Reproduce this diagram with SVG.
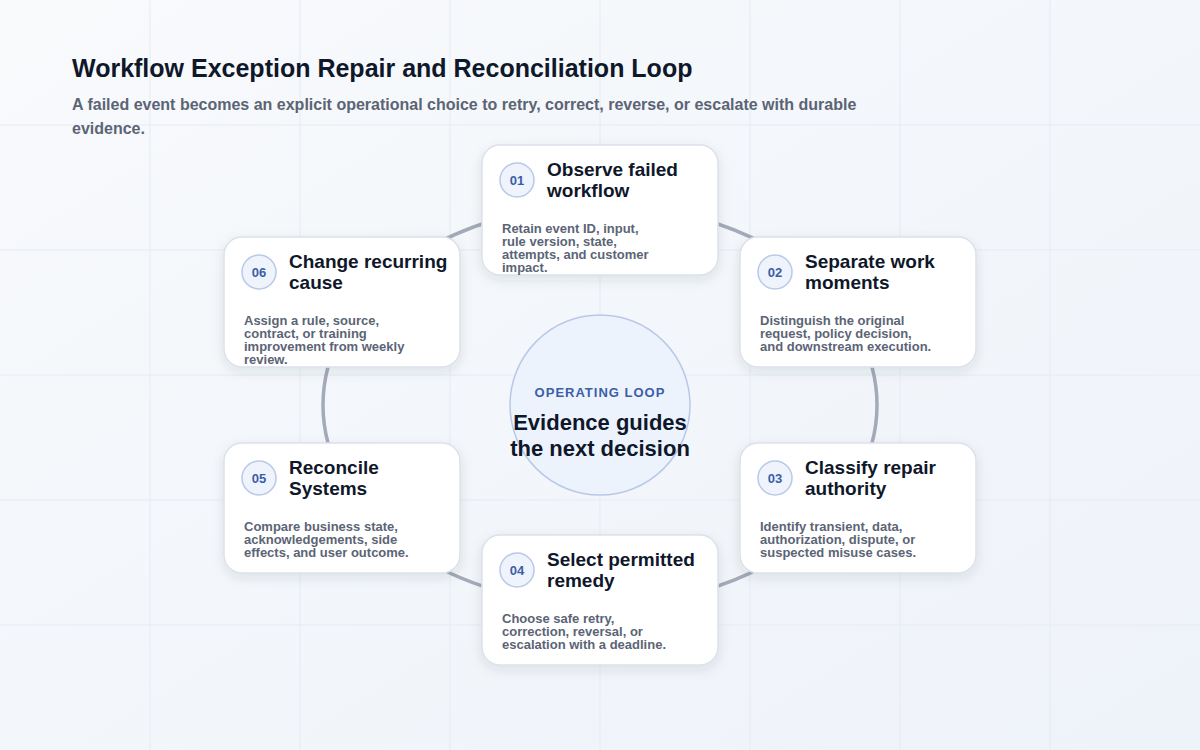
<svg xmlns="http://www.w3.org/2000/svg" width="1200" height="750" viewBox="0 0 1200 750">
<defs>
<linearGradient id="bg" x1="0" y1="0" x2="1" y2="1"><stop offset="0" stop-color="#f8fafc"/><stop offset="1" stop-color="#eef2f9"/></linearGradient>
<filter id="sh" x="-20%" y="-20%" width="140%" height="150%"><feDropShadow dx="0" dy="4" stdDeviation="6" flood-color="#1e293b" flood-opacity="0.10"/></filter>
<style>
text{font-family:"Liberation Sans",Arial,sans-serif}
.card{fill:#fff;stroke:#dbe1ea;stroke-width:1.5}
.badge{fill:#eef3fc;stroke:#b9c9e8;stroke-width:1.5}
.num{font-size:13px;font-weight:bold;fill:#3b5ea8;text-anchor:middle}
.ttl{font-size:19px;font-weight:bold;fill:#0f172a}
.body{font-size:13px;font-weight:bold;fill:#5b6475}
.grid{stroke:#e6ebf3;stroke-width:1}
</style>
</defs>
<rect width="1200" height="750" fill="url(#bg)"/>
<g class="grid">
<line x1="0" y1="125" x2="1200" y2="125"/><line x1="0" y1="250" x2="1200" y2="250"/><line x1="0" y1="375" x2="1200" y2="375"/><line x1="0" y1="500" x2="1200" y2="500"/><line x1="0" y1="625" x2="1200" y2="625"/>
<line x1="150" y1="0" x2="150" y2="750"/><line x1="300" y1="0" x2="300" y2="750"/><line x1="450" y1="0" x2="450" y2="750"/><line x1="600" y1="0" x2="600" y2="750"/><line x1="750" y1="0" x2="750" y2="750"/><line x1="900" y1="0" x2="900" y2="750"/><line x1="1050" y1="0" x2="1050" y2="750"/>
</g>
<text x="72" y="77" font-size="25" font-weight="bold" fill="#0f172a">Workflow Exception Repair and Reconciliation Loop</text>
<text x="72" y="110" font-size="16" font-weight="bold" fill="#5b6475">A failed event becomes an explicit operational choice to retry, correct, reverse, or escalate with durable</text>
<text x="72" y="134" font-size="16" font-weight="bold" fill="#5b6475">evidence.</text>
<g id="connectors">
<ellipse cx="600" cy="405" rx="277" ry="200" fill="none" stroke="#a3aab8" stroke-width="3.5"/>
</g>
<g id="center">
<circle cx="600" cy="405" r="90" fill="#edf3fd" stroke="#b9c9e8" stroke-width="1.5"/>
<text x="600" y="397" font-size="13" font-weight="bold" fill="#3b5ea8" text-anchor="middle" letter-spacing="1">OPERATING LOOP</text>
<text x="600" y="430" font-size="22" font-weight="bold" fill="#0f172a" text-anchor="middle">Evidence guides</text>
<text x="600" y="456" font-size="22" font-weight="bold" fill="#0f172a" text-anchor="middle">the next decision</text>
</g>
<g id="n01" transform="translate(482,145)">
<rect class="card" width="236" height="130" rx="18" filter="url(#sh)"/>
<circle class="badge" cx="35" cy="35" r="17"/><text class="num" x="35" y="40">01</text>
<text class="ttl" x="65" y="31">Observe failed</text><text class="ttl" x="65" y="52">workflow</text>
<text class="body" x="20" y="88">Retain event ID, input,</text><text class="body" x="20" y="101">rule version, state,</text><text class="body" x="20" y="114">attempts, and customer</text><text class="body" x="20" y="127">impact.</text>
</g>
<g id="n02" transform="translate(740,237)">
<rect class="card" width="236" height="130" rx="18" filter="url(#sh)"/>
<circle class="badge" cx="35" cy="35" r="17"/><text class="num" x="35" y="40">02</text>
<text class="ttl" x="65" y="31">Separate work</text><text class="ttl" x="65" y="52">moments</text>
<text class="body" x="20" y="88">Distinguish the original</text><text class="body" x="20" y="101">request, policy decision,</text><text class="body" x="20" y="114">and downstream execution.</text>
</g>
<g id="n03" transform="translate(740,443)">
<rect class="card" width="236" height="130" rx="18" filter="url(#sh)"/>
<circle class="badge" cx="35" cy="35" r="17"/><text class="num" x="35" y="40">03</text>
<text class="ttl" x="65" y="31">Classify repair</text><text class="ttl" x="65" y="52">authority</text>
<text class="body" x="20" y="88">Identify transient, data,</text><text class="body" x="20" y="101">authorization, dispute, or</text><text class="body" x="20" y="114">suspected misuse cases.</text>
</g>
<g id="n04" transform="translate(482,535)">
<rect class="card" width="236" height="130" rx="18" filter="url(#sh)"/>
<circle class="badge" cx="35" cy="35" r="17"/><text class="num" x="35" y="40">04</text>
<text class="ttl" x="65" y="31">Select permitted</text><text class="ttl" x="65" y="52">remedy</text>
<text class="body" x="20" y="88">Choose safe retry,</text><text class="body" x="20" y="101">correction, reversal, or</text><text class="body" x="20" y="114">escalation with a deadline.</text>
</g>
<g id="n05" transform="translate(224,443)">
<rect class="card" width="236" height="130" rx="18" filter="url(#sh)"/>
<circle class="badge" cx="35" cy="35" r="17"/><text class="num" x="35" y="40">05</text>
<text class="ttl" x="65" y="31">Reconcile</text><text class="ttl" x="65" y="52">Systems</text>
<text class="body" x="20" y="88">Compare business state,</text><text class="body" x="20" y="101">acknowledgements, side</text><text class="body" x="20" y="114">effects, and user outcome.</text>
</g>
<g id="n06" transform="translate(224,237)">
<rect class="card" width="236" height="130" rx="18" filter="url(#sh)"/>
<circle class="badge" cx="35" cy="35" r="17"/><text class="num" x="35" y="40">06</text>
<text class="ttl" x="65" y="31">Change recurring</text><text class="ttl" x="65" y="52">cause</text>
<text class="body" x="20" y="88">Assign a rule, source,</text><text class="body" x="20" y="101">contract, or training</text><text class="body" x="20" y="114">improvement from weekly</text><text class="body" x="20" y="127">review.</text>
</g>
</svg>
